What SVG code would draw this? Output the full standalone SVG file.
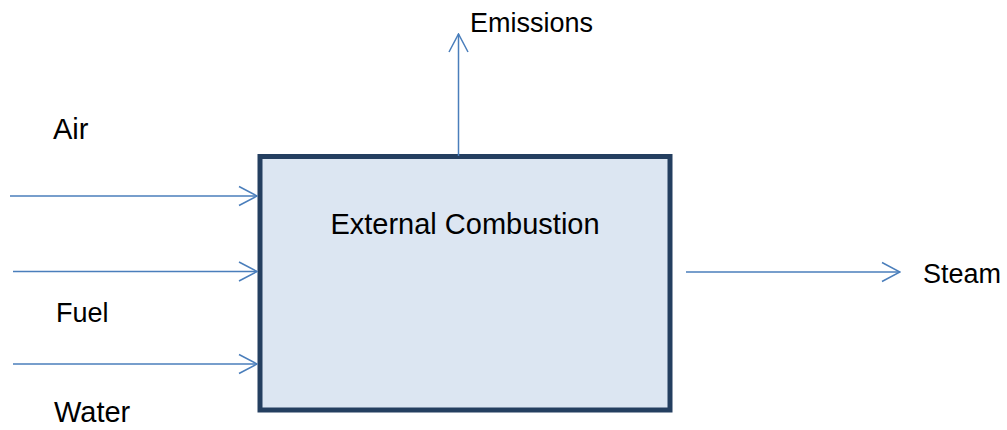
<svg xmlns="http://www.w3.org/2000/svg" width="1007" height="430" viewBox="0 0 1007 430">
<defs>
<style>
.lbl{font-family:"Liberation Sans",Arial,sans-serif;font-size:27px;fill:#000}
.conn{stroke:#4A7EBB;stroke-width:1.5;fill:none}
</style>
<marker id="ah" viewBox="0 0 20 22" refX="19" refY="11" markerWidth="20" markerHeight="22" markerUnits="userSpaceOnUse" orient="auto">
<polyline points="1,1.5 19,11 1,20.5" fill="none" stroke="#4A7EBB" stroke-width="1.5"/>
</marker>
</defs>
<rect width="1007" height="430" fill="#fff"/>
<g id="box">
<rect x="260" y="156.5" width="410" height="253.5" fill="#DCE6F2" stroke="#243F60" stroke-width="5"/>
<text class="lbl" x="465" y="234" text-anchor="middle" style="font-size:29px">External Combustion</text>
</g>
<g id="connectors">
<line class="conn" x1="10" y1="196" x2="257" y2="196" marker-end="url(#ah)"/>
<line class="conn" x1="13" y1="271.5" x2="257" y2="271.5" marker-end="url(#ah)"/>
<line class="conn" x1="13" y1="364" x2="257" y2="364" marker-end="url(#ah)"/>
<line class="conn" x1="458.5" y1="156" x2="458.5" y2="34" marker-end="url(#ah)"/>
<line class="conn" x1="686" y1="272" x2="900" y2="272" marker-end="url(#ah)"/>
</g>
<g id="air"><text class="lbl" x="53" y="139" style="font-size:29px">Air</text></g>
<g id="fuel"><text class="lbl" x="56" y="321.5">Fuel</text></g>
<g id="water"><text class="lbl" x="54" y="422" style="font-size:29px">Water</text></g>
<g id="emissions"><text class="lbl" x="470" y="32">Emissions</text></g>
<g id="steam"><text class="lbl" x="923" y="282.5">Steam</text></g>
</svg>
